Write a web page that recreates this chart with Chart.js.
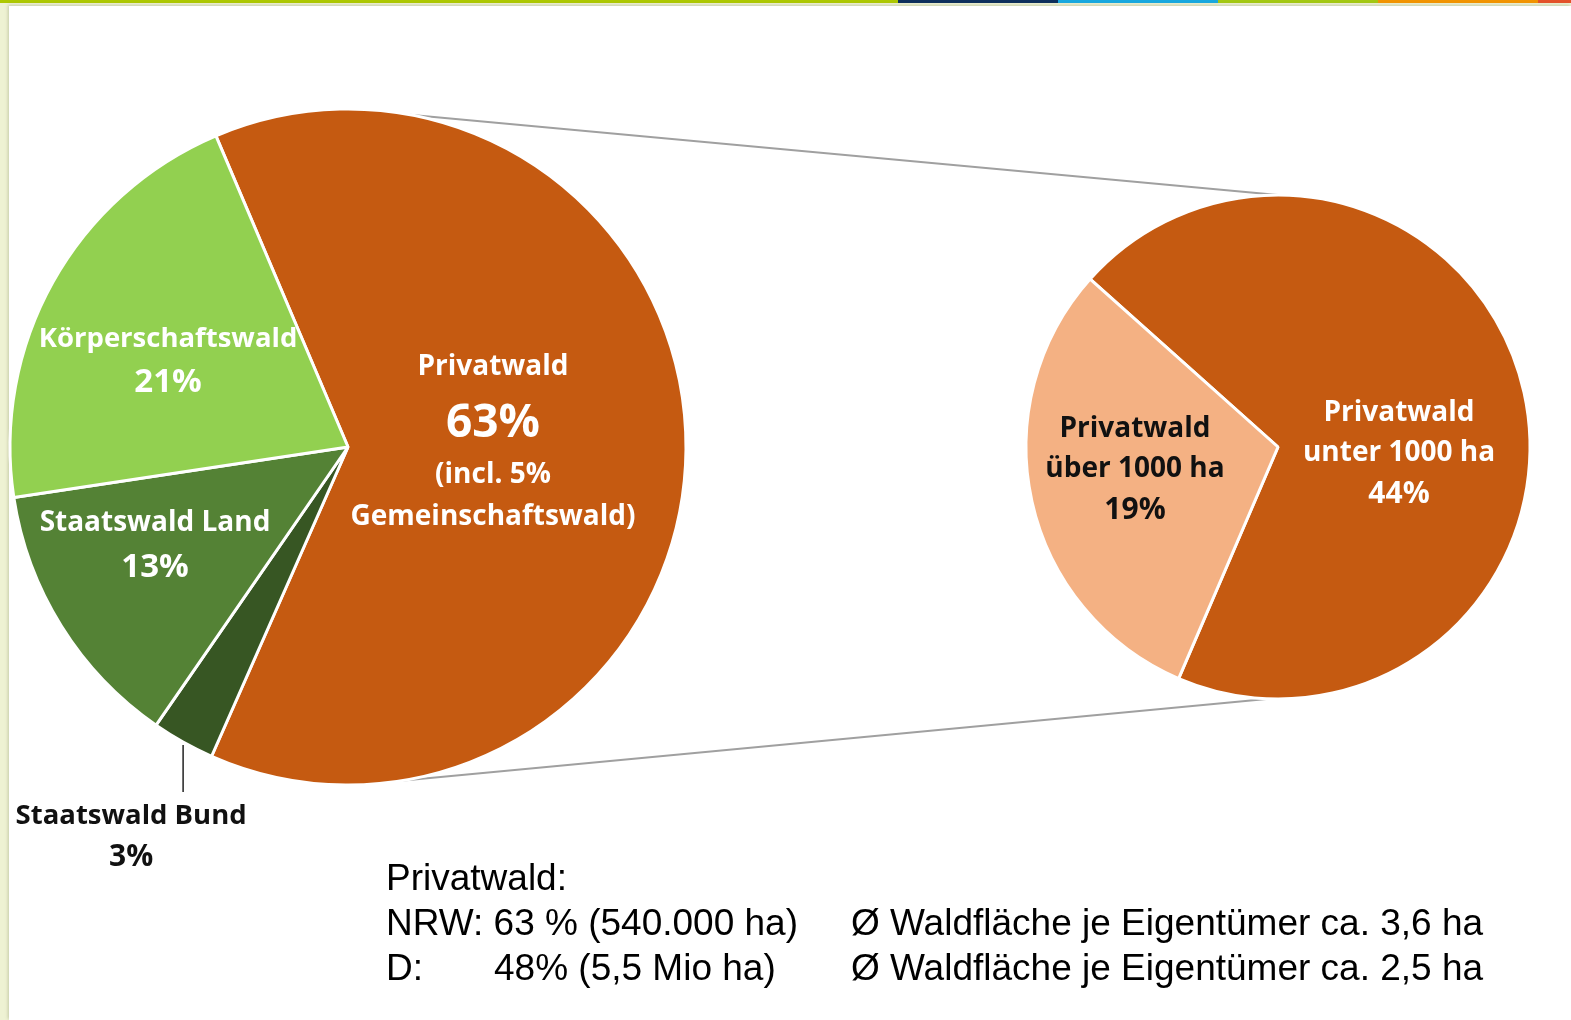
<!DOCTYPE html>
<html lang="de">
<head>
<meta charset="UTF-8">
<title>Waldbesitz NRW</title>
<script src="https://cdn.jsdelivr.net/npm/chart.js"></script>
<style>
    body {
        margin: 0;
        width: 1571px;
        height: 1020px;
        overflow: hidden;
        position: relative;
        background: #eef2d3;
        font-family: 'Liberation Sans', Arial, sans-serif;
    }
    .topbar { position: absolute; left: 0; top: 0; width: 1571px; height: 3px; display: flex; }
    .topbar div { height: 3px; }
    .panel {
        position: absolute; left: 9px; top: 6px; right: 0; bottom: 0;
        background: #fff;
        box-shadow: -1px -1px 3px rgba(120, 130, 90, 0.35);
    }
    canvas { position: absolute; }
    .note { position: absolute; font-size: 37px; line-height: 45px; color: #000; white-space: pre; }
</style>
</head>
<body>
<div class="topbar">
    <div style="width:898px;background:#adc800"></div>
    <div style="width:160px;background:#0e2f5c"></div>
    <div style="width:160px;background:#19a8df"></div>
    <div style="width:160px;background:#a3c812"></div>
    <div style="width:160px;background:#f29400"></div>
    <div style="width:33px;background:#e4522a"></div>
</div>
<div class="panel"></div>
<canvas id="lines" width="1571" height="1020" style="left:0;top:0"></canvas>
<canvas id="mainPie" width="700" height="900" style="left:0;top:99px"></canvas>
<canvas id="subPie" width="524" height="524" style="left:1016px;top:185px"></canvas>

<div class="note" style="left:386px;top:855px">Privatwald:</div>
<div class="note" style="left:386px;top:900px">NRW: 63 % (540.000 ha)</div>
<div class="note" style="left:386px;top:945px">D:</div>
<div class="note" style="left:494px;top:945px">48% (5,5 Mio ha)</div>
<div class="note" style="left:851px;top:900px">Ø Waldfläche je Eigentümer ca. 3,6 ha</div>
<div class="note" style="left:851px;top:945px">Ø Waldfläche je Eigentümer ca. 2,5 ha</div>

<script>
    // Waldbesitzarten NRW
    const mainLabels = ['Privatwald', 'Staatswald Bund', 'Staatswald Land', 'Körperschaftswald'];
    const mainValues = [63, 3, 13, 21];
    const mainColors = ['#c55a11', '#375623', '#548235', '#92d050'];
    const privatNote = ['(incl. 5%', 'Gemeinschaftswald)'];

    // Aufteilung Privatwald
    const subLabels = [['Privatwald', 'unter 1000 ha'], ['Privatwald', 'über 1000 ha']];
    const subValues = [44, 19];
    const subColors = ['#c55a11', '#f4b183'];

    const labelFont = "'Open Sans', 'Noto Sans', sans-serif";

    function drawLines(ctx, lines, x, y) {
        lines.forEach(l => {
            ctx.font = 'bold ' + l.size + 'px ' + labelFont;
            ctx.fillStyle = l.color;
            ctx.fillText(l.text, x, y + l.dy);
        });
    }

    const pieLabels = {
        id: 'pieLabels',
        afterDatasetsDraw(chart, args, opts) {
            const ctx = chart.ctx;
            const arcs = chart.getDatasetMeta(0).data;
            ctx.save();
            ctx.textAlign = 'center';
            ctx.textBaseline = 'middle';
            opts.items.forEach((it, i) => {
                const arc = arcs[i];
                if (it.leader) {
                    // label outside the pie with a vertical leader line
                    const mid = (arc.startAngle + arc.endAngle) / 2;
                    const px = arc.x + Math.cos(mid) * arc.outerRadius;
                    const py = arc.y + Math.sin(mid) * arc.outerRadius;
                    ctx.strokeStyle = '#222';
                    ctx.lineWidth = 1.5;
                    ctx.beginPath();
                    ctx.moveTo(px, py + 3);
                    ctx.lineTo(px, py + it.leader);
                    ctx.stroke();
                    drawLines(ctx, it.lines, px + it.dx, py + it.leader);
                } else {
                    drawLines(ctx, it.lines, arc.x + it.dx, arc.y);
                }
            });
            ctx.restore();
        }
    };

    const mainItems = [
        { dx: 145, lines: [
            { text: mainLabels[0], size: 28, dy: -80, color: '#fff' },
            { text: mainValues[0] + '%', size: 46, dy: -23, color: '#fff' },
            { text: privatNote[0], size: 28, dy: 28, color: '#fff' },
            { text: privatNote[1], size: 28, dy: 70, color: '#fff' }
        ]},
        { dx: -52, leader: 50, lines: [
            { text: mainLabels[1], size: 27.5, dy: 24, color: '#111' },
            { text: mainValues[1] + '%', size: 30, dy: 65, color: '#111' }
        ]},
        { dx: -193, lines: [
            { text: mainLabels[2], size: 28, dy: 76, color: '#fff' },
            { text: mainValues[2] + '%', size: 33, dy: 121, color: '#fff' }
        ]},
        { dx: -180, lines: [
            { text: mainLabels[3], size: 27.5, dy: -108, color: '#fff' },
            { text: mainValues[3] + '%', size: 33, dy: -64, color: '#fff' }
        ]}
    ];

    const subItems = [
        { dx: 121, lines: [
            { text: subLabels[0][0], size: 28, dy: -34, color: '#fff' },
            { text: subLabels[0][1], size: 28, dy: 6, color: '#fff' },
            { text: subValues[0] + '%', size: 30, dy: 47, color: '#fff' }
        ]},
        { dx: -143, lines: [
            { text: subLabels[1][0], size: 28, dy: -18, color: '#111' },
            { text: subLabels[1][1], size: 28, dy: 22, color: '#111' },
            { text: subValues[1] + '%', size: 30, dy: 63, color: '#111' }
        ]}
    ];

    const mainChart = new Chart(document.getElementById('mainPie'), {
        type: 'pie',
        data: {
            labels: mainLabels,
            datasets: [{ data: mainValues, backgroundColor: mainColors, borderColor: '#fff', borderWidth: 3, hoverOffset: 0 }]
        },
        options: {
            responsive: false,
            animation: false,
            rotation: -23,
            radius: 338,
            layout: { padding: { left: 10, top: 10, right: 14, bottom: 214 } },
            plugins: { legend: { display: false }, tooltip: { enabled: false }, pieLabels: { items: mainItems } },
            events: []
        },
        plugins: [pieLabels]
    });

    const subChart = new Chart(document.getElementById('subPie'), {
        type: 'pie',
        data: {
            labels: subLabels.map(l => l.join(' ')),
            datasets: [{ data: subValues, backgroundColor: subColors, borderColor: '#fff', borderWidth: 3, hoverOffset: 0 }]
        },
        options: {
            responsive: false,
            animation: false,
            rotation: -48.2,
            radius: 252,
            layout: { padding: 10 },
            plugins: { legend: { display: false }, tooltip: { enabled: false }, pieLabels: { items: subItems } },
            events: []
        },
        plugins: [pieLabels]
    });

    // grey connector lines between the two pies
    function pieGeom(chart, canvasId) {
        const arc = chart.getDatasetMeta(0).data[0];
        const c = document.getElementById(canvasId);
        return { x: arc.x + c.offsetLeft, y: arc.y + c.offsetTop, r: arc.outerRadius };
    }
    function onCircle(g, deg) {
        const a = (deg - 90) * Math.PI / 180;
        return [g.x + Math.cos(a) * g.r, g.y + Math.sin(a) * g.r];
    }
    const g1 = pieGeom(mainChart, 'mainPie');
    const g2 = pieGeom(subChart, 'subPie');
    const lctx = document.getElementById('lines').getContext('2d');
    lctx.strokeStyle = '#a0a0a0';
    lctx.lineWidth = 2;
    [[10.5, 0], [171, 182]].forEach(([a1, a2]) => {
        const p = onCircle(g1, a1), q = onCircle(g2, a2);
        lctx.beginPath();
        lctx.moveTo(p[0], p[1]);
        lctx.lineTo(q[0], q[1]);
        lctx.stroke();
    });
</script>
</body>
</html>
